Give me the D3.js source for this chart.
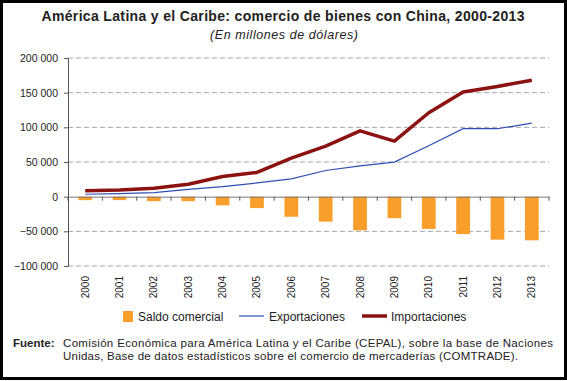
<!DOCTYPE html>
<html>
<head>
<meta charset="utf-8">
<script src="https://cdn.jsdelivr.net/npm/d3@7"></script>
<style>
  body { margin: 0; background: #fff; }
  svg { display: block; font-family: "Liberation Sans", Arial, sans-serif; }
</style>
</head>
<body>
<svg id="chart" width="567" height="381"></svg>
<script>
// data (millones de dólares)
const years = ['2000','2001','2002','2003','2004','2005','2006','2007','2008','2009','2010','2011','2012','2013'];
const saldo = [-5000, -5000, -6500, -6500, -12500, -16500, -29000, -36000, -48500, -31000, -46500, -54000, -62000, -63000];
const exportaciones = [3500, 4300, 5800, 10600, 14500, 19800, 25600, 37700, 44400, 49800, 73400, 98000, 98000, 106000];
const importaciones = [8500, 9700, 12000, 17900, 29000, 35000, 55500, 73000, 95000, 80000, 121000, 151000, 159000, 168000];
const yTicks = [-100000, -50000, 0, 50000, 100000, 150000, 200000];

const title = 'América Latina y el Caribe: comercio de bienes con China, 2000-2013';
const subtitle = '(En millones de dólares)';
const legendLabels = ['Saldo comercial', 'Exportaciones', 'Importaciones'];
const sourceLines = [
  'Comisión Económica para América Latina y el Caribe (CEPAL), sobre la base de Naciones',
  'Unidas, Base de datos estadísticos sobre el comercio de mercaderías (COMTRADE).'
];

const orange = '#f99d2b';
const blue = '#2f4fb3';
const red = '#8c1212';

const svg = d3.select('#chart');

// frame
svg.append('rect')
  .attr('x', 1.5).attr('y', 1.5)
  .attr('width', 564).attr('height', 377)
  .attr('fill', '#fff')
  .attr('stroke', '#000')
  .attr('stroke-width', 3);

// titles
svg.append('text')
  .attr('x', 283).attr('y', 21)
  .attr('text-anchor', 'middle')
  .attr('font-size', 14).attr('font-weight', 'bold')
  .attr('fill', '#222')
  .attr('textLength', 483).attr('lengthAdjust', 'spacing')
  .text(title);

svg.append('text')
  .attr('x', 284).attr('y', 39)
  .attr('text-anchor', 'middle')
  .attr('font-size', 12.5).attr('font-style', 'italic')
  .attr('fill', '#222')
  .attr('textLength', 148).attr('lengthAdjust', 'spacing')
  .text(subtitle);

// scales
const x = d3.scaleBand().domain(years).range([68, 549]).padding(0);
const y = d3.scaleLinear().domain([-100000, 200000]).range([266, 58]);
const fmt = v => d3.format(',')(v).replace(/,/g, ' ').replace('-', '- ');

// gridlines
svg.append('g')
  .selectAll('line')
  .data(yTicks.filter(d => d !== 0))
  .join('line')
  .attr('x1', 68).attr('x2', 549)
  .attr('y1', d => y(d)).attr('y2', d => y(d))
  .attr('stroke', '#a6a6a6')
  .attr('stroke-dasharray', '5,3');

// y axis
const yAxis = svg.append('g')
  .attr('transform', 'translate(68,0)')
  .call(d3.axisLeft(y).tickValues(yTicks).tickFormat(fmt).tickSize(4).tickPadding(6));
yAxis.select('.domain').attr('stroke', '#555');
yAxis.selectAll('.tick line').attr('stroke', '#555');
yAxis.selectAll('.tick text')
  .attr('font-family', '"Liberation Sans", Arial, sans-serif')
  .attr('font-size', 10.5).attr('fill', '#222');

// bars
const barW = x.bandwidth() * 0.4;
svg.append('g')
  .selectAll('rect')
  .data(years.map((yr, i) => ({ yr, v: saldo[i] })))
  .join('rect')
  .attr('x', d => x(d.yr) + (x.bandwidth() - barW) / 2)
  .attr('width', barW)
  .attr('y', d => y(Math.max(0, d.v)))
  .attr('height', d => Math.abs(y(d.v) - y(0)))
  .attr('fill', orange);

// x axis at zero
const xAxis = svg.append('g')
  .attr('transform', `translate(0,${y(0)})`)
  .call(d3.axisBottom(x).tickSize(0).tickFormat(''));
xAxis.select('.domain').attr('stroke', '#777');
svg.append('g')
  .selectAll('line')
  .data(years.concat(['end']))
  .join('line')
  .attr('x1', (d, i) => x.range()[0] + i * x.bandwidth())
  .attr('x2', (d, i) => x.range()[0] + i * x.bandwidth())
  .attr('y1', y(0)).attr('y2', y(0) + 4)
  .attr('stroke', '#555');

// x labels, rotated
svg.append('g')
  .selectAll('text')
  .data(years)
  .join('text')
  .attr('transform', d => `translate(${x(d) + x.bandwidth() / 2 + 3.5},276) rotate(-90)`)
  .attr('text-anchor', 'end')
  .attr('font-size', 10)
  .attr('fill', '#222')
  .text(d => d);

// lines
const line = d3.line()
  .x((d, i) => x(years[i]) + x.bandwidth() / 2)
  .y(d => y(d));

svg.append('path')
  .datum(exportaciones)
  .attr('fill', 'none')
  .attr('stroke', blue)
  .attr('stroke-width', 1.2)
  .attr('d', line);

svg.append('path')
  .datum(importaciones)
  .attr('fill', 'none')
  .attr('stroke', red)
  .attr('stroke-width', 3.5)
  .attr('stroke-linejoin', 'round')
  .attr('d', line);

// legend
const legend = svg.append('g').attr('font-size', 12).attr('fill', '#222');
legend.append('rect').attr('x', 123).attr('y', 311).attr('width', 10).attr('height', 11).attr('fill', orange);
legend.append('text').attr('x', 138).attr('y', 321).text(legendLabels[0]);
legend.append('line').attr('x1', 239).attr('x2', 264).attr('y1', 316).attr('y2', 316)
  .attr('stroke', blue).attr('stroke-width', 1.2);
legend.append('text').attr('x', 269).attr('y', 321).text(legendLabels[1]);
legend.append('line').attr('x1', 362).attr('x2', 387).attr('y1', 316).attr('y2', 316)
  .attr('stroke', red).attr('stroke-width', 3.5);
legend.append('text').attr('x', 391).attr('y', 321).text(legendLabels[2]);

// source
const src = svg.append('g').attr('font-size', 11.5).attr('fill', '#222');
src.append('text').attr('x', 13).attr('y', 347).attr('font-weight', 'bold').text('Fuente:');
src.append('text').attr('x', 63).attr('y', 347)
  .attr('textLength', 490).attr('lengthAdjust', 'spacing')
  .text(sourceLines[0]);
src.append('text').attr('x', 63).attr('y', 360)
  .attr('textLength', 455).attr('lengthAdjust', 'spacing')
  .text(sourceLines[1]);
</script>
</body>
</html>
